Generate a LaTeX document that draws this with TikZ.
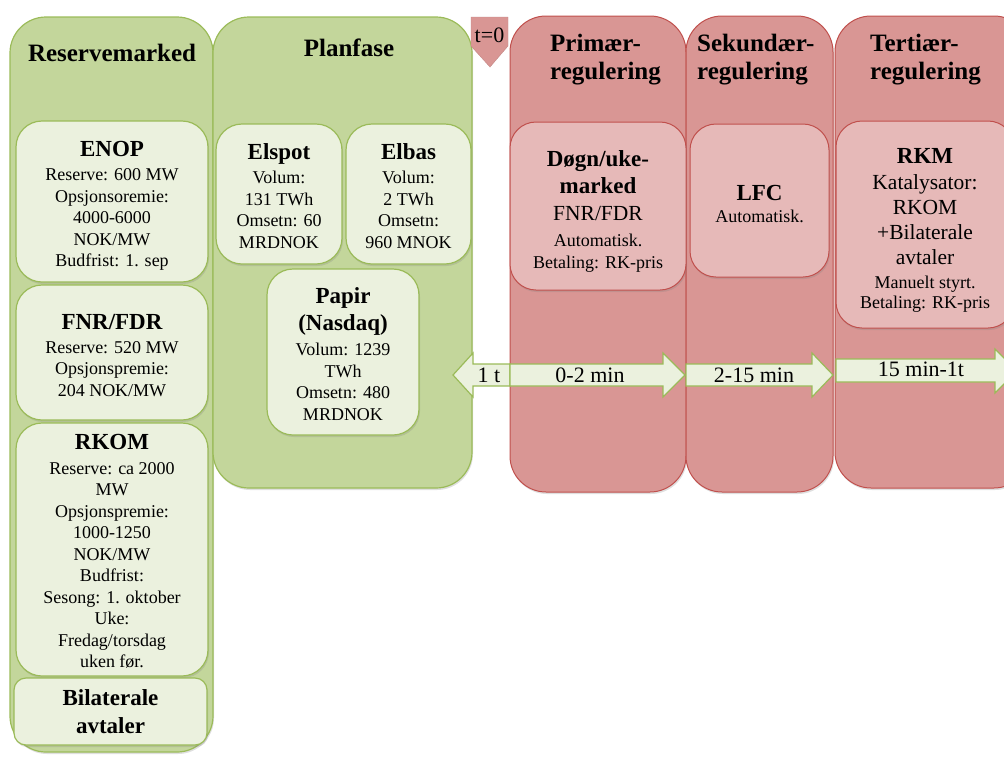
\documentclass[tikz,border=0pt]{standalone}
\usepackage{fontspec}
\setmainfont{Liberation Serif}
\usepackage{tikz}
\usetikzlibrary{shadows}
\definecolor{grnfill}{HTML}{C3D69B}
\definecolor{grnline}{HTML}{9BBB59}
\definecolor{grnlight}{HTML}{EBF1DE}
\definecolor{redfill}{HTML}{D99694}
\definecolor{redline}{HTML}{C0504D}
\definecolor{redlight}{HTML}{E6B9B8}
\newcommand{\hdfont}{\bfseries\fontsize{25}{28}\selectfont}
\newcommand{\ttlfont}{\bfseries\fontsize{23}{25}\selectfont}
\newcommand{\txtfont}{\fontsize{18}{21.5}\selectfont}
\newcommand{\bigtxt}{\fontsize{21.5}{25}\selectfont}
\newcommand{\smtxt}{\fontsize{18}{20}\selectfont}
\newcommand{\tidfont}{\fontsize{22}{24}\selectfont}
\newcommand{\lift}[1]{\rule{0pt}{#1}}
\tikzset{
  shade/.style={drop shadow={opacity=0.25,shadow xshift=1pt,shadow yshift=-2pt}},
  grngroup/.style={draw=grnline,fill=grnfill,line width=1.2pt,rounded corners=36pt,shade},
  redgroup/.style={draw=redline,fill=redfill,line width=1pt,rounded corners=36pt,shade},
  grnbox/.style={draw=grnline,fill=grnlight,line width=1.2pt,rounded corners=26pt,shade,
    align=center,font=\txtfont,inner sep=0pt},
  redbox/.style={draw=redline,fill=redlight,line width=1pt,rounded corners=26pt,shade,
    align=center,font=\txtfont,inner sep=0pt},
  hd/.style={align=center,font=\hdfont},
  hdl/.style={align=left,font=\hdfont,anchor=west,inner sep=0pt},
  arrowbox/.style={draw=grnline,fill=grnlight,line width=1.2pt,line join=miter},
  arrowtxt/.style={font=\tidfont}
}
\begin{document}
\begin{tikzpicture}[x=1pt,y=-1pt]
\useasboundingbox (0,0) rectangle (1004,756);

% groups
\node (resgrp) at (111.5,384.5) [grngroup,minimum width=203pt,minimum height=735pt] {};
\node (plangrp) at (342.5,252.5) [grngroup,minimum width=259pt,minimum height=471pt] {};
\node (primgrp) at (598,254) [redgroup,minimum width=176pt,minimum height=476pt] {};
\node (sekgrp) at (759.5,254) [redgroup,minimum width=147pt,minimum height=476pt] {};
\node (tergrp) at (932.5,252) [redgroup,minimum width=195pt,minimum height=472pt] {};

\node (reshd) at (112,53) [hd] {Reservemarked};
\node (planhd) at (349,48) [hd] {Planfase};
\node (primhd) at (550,60) [hdl] {Primær-\\regulering};
\node (sekhd) at (697,60) [hdl] {Sekundær-\\regulering};
\node (terhd) at (870,60) [hdl] {Tertiær-\\regulering};

% t=0
\filldraw[fill=redfill,draw=redfill!90!black,line width=0.4pt] (471,17) -- (508,17) -- (508,46) -- (490,67) -- (471,46) -- cycle;
\node (tnull) at (489.5,35) [arrowtxt] {t=0};

% reservemarked
\node (enop) at (112,201.5) [grnbox,minimum width=192pt,minimum height=161pt]
  {{\ttlfont\lift{24pt}ENOP}\\[3pt]Reserve: 600 MW\\Opsjonsoremie:\\4000-6000\\NOK/MW\\Budfrist: 1. sep};
\node (fnr) at (112,352.5) [grnbox,minimum width=192pt,minimum height=135pt]
  {{\ttlfont\lift{21pt}FNR/FDR}\\[2.5pt]Reserve: 520 MW\\Opsjonspremie:\\204 NOK/MW};
\node (rkom) at (112,549.5) [grnbox,minimum width=192pt,minimum height=253pt]
  {{\ttlfont\lift{19pt}RKOM}\\[3pt]Reserve: ca 2000\\MW\\Opsjonspremie:\\1000-1250\\NOK/MW\\Budfrist:\\Sesong: 1. oktober\\Uke:\\Fredag/torsdag\\uken før.};
\node (bilat) at (110.5,711.5) [grnbox,rounded corners=12pt,minimum width=193pt,minimum height=67pt,font=\ttlfont]
  {Bilaterale\\[3pt]avtaler};

% planfase
\node (elspot) at (279,194) [grnbox,minimum width=126pt,minimum height=140pt]
  {{\ttlfont\lift{20pt}Elspot}\\[2.5pt]Volum:\\131 TWh\\Omsetn: 60\\MRDNOK};
\node (elbas) at (408.5,194) [grnbox,minimum width=125pt,minimum height=140pt]
  {{\ttlfont\lift{20pt}Elbas}\\[2.5pt]Volum:\\2 TWh\\Omsetn:\\960 MNOK};
\node (papir) at (343,352) [grnbox,minimum width=152pt,minimum height=166pt]
  {{\ttlfont\lift{20pt}Papir}\\[5.5pt]{\ttlfont (Nasdaq)}\\[4pt]Volum: 1239\\TWh\\Omsetn: 480\\MRDNOK};

% regulering
\node (dogn) at (598,206) [redbox,minimum width=176pt,minimum height=168pt]
  {{\ttlfont\lift{27pt}Døgn/uke-}\\[5.5pt]{\ttlfont marked}\\[5.5pt]{\bigtxt FNR/FDR}\\[4.5pt]{\smtxt Automatisk.}\\{\smtxt Betaling: RK-pris}};
\node (lfc) at (759.5,200.5) [redbox,minimum width=139pt,minimum height=153pt]
  {{\ttlfont\lift{22pt}LFC}\\[1pt]{\smtxt Automatisk.}};
\node (rkm) at (925,224.5) [redbox,minimum width=178pt,minimum height=207pt]
  {{\ttlfont\lift{27pt}RKM}\\[5pt]{\bigtxt Katalysator:}\\[3.5pt]{\bigtxt RKOM}\\[3.5pt]{\bigtxt +Bilaterale}\\[3.5pt]{\bigtxt avtaler}\\[2.5pt]{\smtxt Manuelt styrt.}\\[-1.5pt]{\smtxt Betaling: RK-pris}};

% tidsakse
\filldraw[arrowbox] (453,375) -- (473,353) -- (473,364) -- (510,364) -- (510,386) -- (473,386) -- (473,397) -- cycle;
\node (entime) at (489,375) [arrowtxt] {1 t};
\filldraw[arrowbox] (510,364) -- (663,364) -- (663,353) -- (685,375) -- (663,397) -- (663,386) -- (510,386) -- cycle;
\node (primtid) at (590,375) [arrowtxt] {0-2 min};
\filldraw[arrowbox] (686,364) -- (812,364) -- (812,353) -- (833,375) -- (812,397) -- (812,386) -- (686,386) -- cycle;
\node (sektid) at (754,375) [arrowtxt] {2-15 min};
\filldraw[arrowbox] (836,359) -- (995,359) -- (995,349) -- (1017,371) -- (995,393) -- (995,382) -- (836,382) -- cycle;
\node (tertid) at (921,369) [arrowtxt] {15 min-1t};
\end{tikzpicture}
\end{document}
